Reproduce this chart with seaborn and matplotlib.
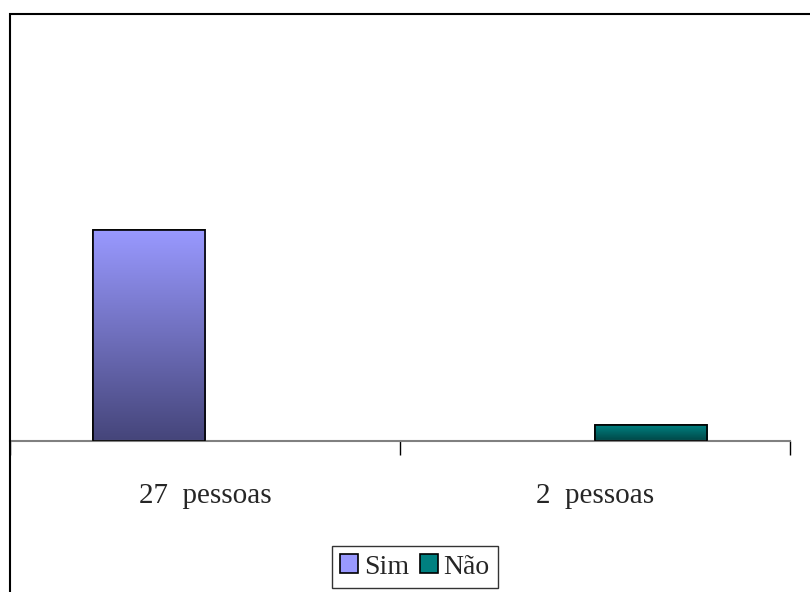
import numpy as np
import pandas as pd
import seaborn as sns
import matplotlib.pyplot as plt
from matplotlib.colors import LinearSegmentedColormap
from matplotlib.patches import Rectangle, Patch

# Dados do gráfico
categorias = ['27  pessoas', '2  pessoas']
series = ['Sim', 'Não']
valores_sim = [27, np.nan]
valores_nao = [np.nan, 2]
cores = {'Sim': '#9999FF', 'Não': '#008080'}
cores_escuras = {'Sim': '#45457A', 'Não': '#004646'}

df = pd.DataFrame({
    'categoria': categorias * 2,
    'serie': ['Sim'] * 2 + ['Não'] * 2,
    'valor': valores_sim + valores_nao,
}).dropna()

sns.set_style('white')
plt.rcParams['font.family'] = ['Liberation Serif', 'DejaVu Serif']

fig = plt.figure(figsize=(8.1, 5.92), dpi=100)
ax = fig.add_axes([10 / 810, 151 / 592, 780 / 810, 390 / 592])

sns.barplot(data=df, x='categoria', y='valor', hue='serie', order=categorias,
            hue_order=series, palette=cores, width=0.575, dodge=True,
            edgecolor='black', linewidth=1.2, legend=False, ax=ax, zorder=2)

# Gradiente vertical em cada barra
for container, nome in zip(ax.containers, series):
    cmap = LinearSegmentedColormap.from_list(nome, [cores_escuras[nome], cores[nome]])
    for barra in container:
        x, y = barra.get_x(), barra.get_y()
        w, h = barra.get_width(), barra.get_height()
        if np.isnan(h) or h == 0:
            continue
        grad = np.linspace(0, 1, 256).reshape(-1, 1)
        img = ax.imshow(grad, cmap=cmap, origin='lower', aspect='auto',
                        extent=(x, x + w, y, y + h), zorder=2.5)
        img.set_clip_path(barra)
        contorno = Rectangle((x, y), w, h, fill=False, edgecolor='black',
                             linewidth=1.2, zorder=3)
        ax.add_patch(contorno)

ax.set_xlim(-0.5, 1.5)
ax.set_ylim(0, 50)
ax.set_xlabel('')
ax.set_ylabel('')
ax.set_yticks([])
ax.tick_params(axis='x', which='major', bottom=True, length=0, pad=30, labelsize=21)
ax.set_xticks([-0.5, 0.5, 1.5], minor=True)
ax.tick_params(axis='x', which='minor', bottom=True, length=10, width=1,
               color='black', direction='out')
for lado in ['top', 'right', 'left']:
    ax.spines[lado].set_visible(False)
ax.spines['bottom'].set_color('#808080')
ax.spines['bottom'].set_linewidth(1.5)

# Legenda
handles = [Patch(facecolor=cores[s], edgecolor='black', linewidth=1.2) for s in series]
leg = fig.legend(handles, series, loc='center', bbox_to_anchor=(415 / 810, 25 / 592),
                 ncol=2, fontsize=20, frameon=True, fancybox=False,
                 handlelength=0.65, handleheight=0.65, handletextpad=0.2,
                 columnspacing=0.4, borderpad=0.3, borderaxespad=0)
leg.get_frame().set_edgecolor('black')
leg.get_frame().set_linewidth(1)

# Moldura do gráfico
fig.add_artist(Rectangle((10 / 810, -0.1), 1.0, (592 - 14) / 592 + 0.1,
                         transform=fig.transFigure, fill=False,
                         edgecolor='black', linewidth=1.5))

fig.savefig('out.png', dpi=100)
